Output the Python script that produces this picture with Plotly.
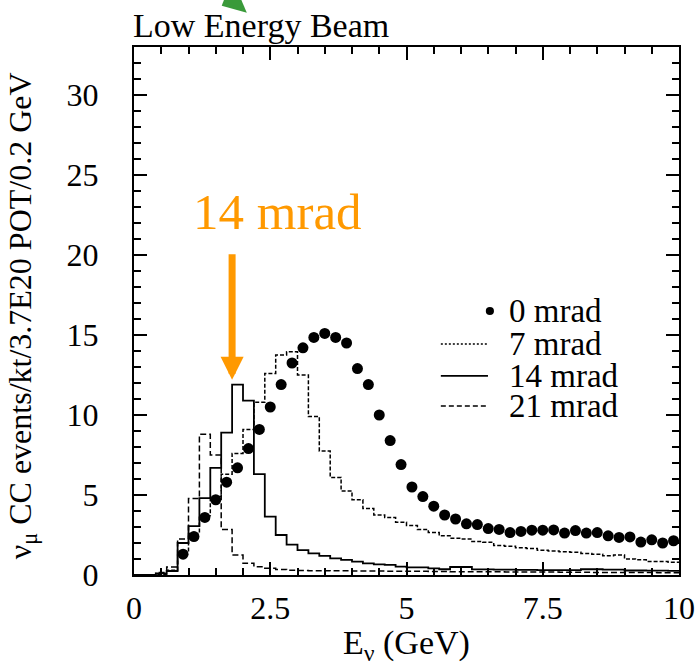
import plotly.graph_objects as go

# ---- binning (0.2 GeV bins from 0 to 10 GeV) ----
BIN_WIDTH = 0.2
N_BINS = 50
bin_edges = [round(i * BIN_WIDTH, 1) for i in range(N_BINS + 1)]

# ---- nu_mu CC events per bin for the off-axis angles (step histograms) ----
flux_7mrad = [
    0.0, 0.0, 0.05, 0.3, 1.4, 2.6, 3.7, 4.9, 6.3, 7.6,
    9.1, 10.8, 12.6, 13.75, 13.95, 12.5, 9.9, 7.75, 6.1, 5.25,
    4.7, 4.15, 3.75, 3.6, 3.3, 3.1, 2.85, 2.65, 2.45, 2.3,
    2.25, 2.1, 2.05, 1.85, 1.8, 1.7, 1.65, 1.55, 1.5, 1.45,
    1.42, 1.35, 1.3, 1.2, 1.25, 1.0, 0.95, 0.85, 0.85, 0.8,
]
flux_14mrad = [
    0.0, 0.0, 0.1, 0.25, 2.0, 3.05, 4.8, 6.7, 8.9, 11.9,
    10.9, 6.3, 3.65, 2.5, 1.9, 1.56, 1.35, 1.19, 1.04, 0.94,
    0.83, 0.73, 0.67, 0.63, 0.52, 0.48, 0.48, 0.42, 0.36, 0.5,
    0.5, 0.35, 0.35, 0.33, 0.33, 0.32, 0.32, 0.3, 0.3, 0.3,
    0.3, 0.36, 0.36, 0.33, 0.33, 0.28, 0.28, 0.27, 0.27, 0.26,
]
flux_21mrad = [
    0.0, 0.0, 0.15, 0.5, 2.25, 4.78, 8.8, 7.5, 2.85, 1.25,
    0.73, 0.52, 0.42, 0.35, 0.3, 0.28, 0.27, 0.27, 0.26, 0.26,
    0.25, 0.25, 0.25, 0.24, 0.24, 0.23, 0.23, 0.22, 0.22, 0.21,
    0.21, 0.2, 0.2, 0.2, 0.19, 0.19, 0.18, 0.18, 0.18, 0.17,
    0.17, 0.17, 0.16, 0.16, 0.16, 0.15, 0.15, 0.15, 0.14, 0.14,
]

# ---- on-axis (0 mrad) spectrum, one point per bin from 0.8 GeV upward ----
FIRST_POINT_BIN = 4
flux_0mrad = [
    1.3, 2.4, 3.6, 4.7, 5.8, 6.7, 7.9, 9.1, 10.5, 11.9,
    13.25, 14.2, 14.85, 15.1, 14.85, 14.5, 12.9, 11.9, 10.0, 8.4,
    6.9, 5.5, 4.9, 4.3, 3.75, 3.5, 3.2, 3.15, 2.9, 2.85,
    2.65, 2.72, 2.8, 2.8, 2.82, 2.62, 2.78, 2.62, 2.65, 2.45,
    2.35, 2.38, 2.06, 2.2, 2.0, 2.14,
]
point_energy = [round(e + BIN_WIDTH / 2, 2) for e in bin_edges[FIRST_POINT_BIN:-1]]

legend_labels = ["0 mrad", "7 mrad", "14 mrad", "21 mrad"]

FONT = "'Liberation Serif', 'Times New Roman', 'DejaVu Serif', serif"
ORANGE = "#FF9900"
GREEN = "#3a9a3a"

fig = go.Figure()


def add_step(values, dash, width):
    fig.add_trace(go.Scatter(
        x=bin_edges,
        y=values + [values[-1]],
        mode="lines",
        line=dict(shape="hv", color="black", width=width, dash=dash),
        hoverinfo="skip",
    ))


add_step(flux_21mrad, "6px,3px", 1.5)
add_step(flux_7mrad, "4px,2px", 1.5)
add_step(flux_14mrad, "solid", 1.8)

fig.add_trace(go.Scatter(
    x=point_energy,
    y=flux_0mrad,
    mode="markers",
    marker=dict(symbol="circle", size=11, color="black"),
))

fig.update_layout(
    width=696, height=667,
    margin=dict(l=134, r=17, t=47, b=92, autoexpand=False),
    plot_bgcolor="white", paper_bgcolor="white",
    showlegend=False,
    font=dict(family=FONT, size=31, color="black"),
)

axis_common = dict(
    ticks="inside", ticklen=13, tickwidth=1.5, tickcolor="black",
    showline=True, linewidth=2, linecolor="black", mirror="allticks",
    showgrid=False, zeroline=False, automargin=False,
    tickfont=dict(family=FONT, size=32, color="black"),
)
fig.update_xaxes(range=[0, 10], tick0=0, dtick=2.5, ticklabelstandoff=4,
                 minor=dict(dtick=0.5, ticks="inside", ticklen=7, tickwidth=1.5,
                            tickcolor="black", showgrid=False),
                 **axis_common)
fig.update_yaxes(range=[0, 33], tick0=0, dtick=5, ticklabelstandoff=27,
                 minor=dict(dtick=1, ticks="inside", ticklen=7, tickwidth=1.5,
                            tickcolor="black", showgrid=False),
                 **axis_common)

annotations = [
    dict(text="Low Energy Beam", xref="paper", yref="paper", x=0, y=1.04,
         xanchor="left", yanchor="middle", showarrow=False, xshift=-3,
         font=dict(family=FONT, size=34, color="black")),
    dict(text="E<sub>ν</sub> (GeV)", xref="paper", yref="paper", x=0.5, y=-0.133,
         xanchor="center", yanchor="middle", showarrow=False,
         font=dict(family=FONT, size=34, color="black")),
    dict(text="ν<sub>μ</sub> CC events/kt/3.7E20 POT/0.2 GeV", xref="paper", yref="paper",
         x=-0.2055, y=0.49, xanchor="center", yanchor="middle", textangle=-90,
         showarrow=False, font=dict(family=FONT, size=32, color="black")),
    # highlighted 14 mrad peak
    dict(text="14 mrad", xref="x", yref="y", x=2.64, y=22.7,
         xanchor="center", yanchor="middle", showarrow=False,
         font=dict(family=FONT, size=51, color=ORANGE)),
    dict(text="", xref="x", yref="y", x=1.8, y=12.2, ax=0, ay=-127,
         showarrow=True, arrowhead=2, arrowsize=0.66, arrowwidth=7,
         arrowcolor=ORANGE, standoff=0),
]

# ---- legend (drawn in plot-area fractions) ----
row_y = [0.5, 0.4375, 0.377, 0.320]
text_x = 0.684
line_x0, line_x1 = 0.563, 0.6495
shapes = []
for label, yy in zip(legend_labels, row_y):
    annotations.append(dict(text=label, xref="paper", yref="paper", x=text_x, y=yy,
                            xanchor="left", yanchor="middle", showarrow=False,
                            font=dict(family=FONT, size=33, color="black")))
# marker sample
mx, my = 0.653, row_y[0]
shapes.append(dict(type="circle", xref="paper", yref="paper",
                   x0=mx - 0.0075, x1=mx + 0.0075, y0=my - 0.0078, y1=my + 0.0078,
                   fillcolor="black", line=dict(width=0)))
for yy, dash, w in zip(row_y[1:], ["2px,2px", "solid", "5px,3px"], [1.3, 1.8, 1.5]):
    shapes.append(dict(type="line", xref="paper", yref="paper",
                       x0=line_x0, x1=line_x1, y0=yy, y1=yy,
                       line=dict(color="black", width=w, dash=dash)))

# green pointer at the top edge
shapes.append(dict(type="path", xref="paper", yref="paper",
                   path="M 0.165 1.089 L 0.197 1.089 L 0.207 1.065 L 0.161 1.078 Z",
                   fillcolor=GREEN, line=dict(width=0)))

fig.update_layout(annotations=annotations, shapes=shapes)

fig.write_html("out.html")
